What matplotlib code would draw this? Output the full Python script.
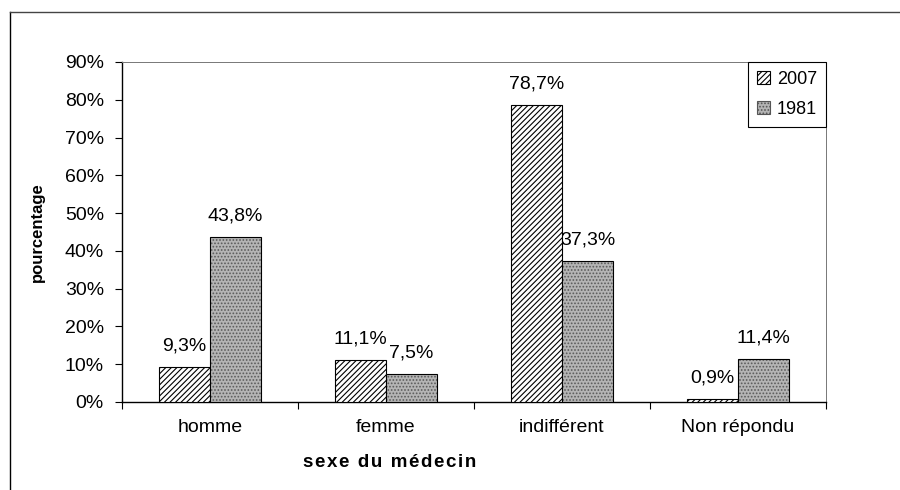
import matplotlib
matplotlib.use("Agg")
import matplotlib.pyplot as plt
import numpy as np
from matplotlib.lines import Line2D
from matplotlib.patches import Patch

categories = ["homme", "femme", "indifférent", "Non répondu"]
series_names = ["2007", "1981"]
values_2007 = [9.3, 11.1, 78.7, 0.9]
values_1981 = [43.8, 7.5, 37.3, 11.4]
ytick_vals = [0, 10, 20, 30, 40, 50, 60, 70, 80, 90]

plt.rcParams['font.family'] = ['Liberation Sans', 'DejaVu Sans']
plt.rcParams['hatch.linewidth'] = 0.8

fig = plt.figure(figsize=(9, 4.9), dpi=100)
L, R, T, B = 122, 826, 62, 402
ax = fig.add_axes([L/900, 1-B/490, (R-L)/900, (B-T)/490])

x = np.arange(len(categories))
w = 0.29

# 2007: diagonal hatch
ax.bar(x - w/2, values_2007, w, facecolor='white', edgecolor='black',
       hatch='//////', linewidth=0.8, zorder=3)
# 1981: gray stipple
ax.bar(x + w/2, values_1981, w, facecolor='#b4b4b4', edgecolor='#5a5a5a',
       hatch='.....', linewidth=0, zorder=3)
ax.bar(x + w/2, values_1981, w, fill=False, edgecolor='black', linewidth=0.8, zorder=4)

def fmt(v):
    return f"{v:.1f}".replace('.', ',') + '%'

for xs, vals in ((x - w/2, values_2007), (x + w/2, values_1981)):
    for xi, v in zip(xs, vals):
        ax.annotate(fmt(v), (xi, v), xytext=(0, 15), textcoords='offset points',
                    ha='center', va='center', fontsize=14)

ax.set_xlim(-0.5, len(categories) - 0.5)
ax.set_ylim(0, 90)
ax.set_yticks(ytick_vals)
ax.set_yticklabels([f"{v}%" for v in ytick_vals], fontsize=14)
ax.set_xticks(x)
ax.set_xticklabels(categories, fontsize=14)
ax.tick_params(axis='x', length=0, pad=12)
ax.set_xticks(np.arange(-0.5, len(categories)), minor=True)
ax.tick_params(axis='x', which='minor', length=5, direction='out', width=0.8)
ax.tick_params(axis='y', length=5, direction='out', width=0.8, pad=8)

for s in ('left', 'bottom'):
    ax.spines[s].set_linewidth(1.0)
    ax.spines[s].set_color('black')
for s in ('top', 'right'):
    ax.spines[s].set_linewidth(0.7)
    ax.spines[s].set_color('#777777')

ax.set_ylabel("pourcentage", fontsize=12, fontweight='bold', labelpad=14)
xlabel_text = "\u200a".join("sexe du médecin")
fig.text(390/900, 1-462/490, xlabel_text, fontsize=13.5, fontweight='bold',
         ha='center', va='center')

handles = [Patch(facecolor='white', edgecolor='black', hatch='//////', linewidth=0.8),
           Patch(facecolor='#b4b4b4', edgecolor='#555555', hatch='.....', linewidth=0.8)]
leg = ax.legend(handles, series_names, loc='upper right', bbox_to_anchor=(1, 1),
                borderaxespad=0, fancybox=False, fontsize=13, handlelength=0.7,
                handleheight=0.7, handletextpad=0.4, labelspacing=0.7,
                borderpad=0.5, framealpha=1)
leg.get_frame().set_edgecolor('black')
leg.get_frame().set_linewidth(0.8)

# outer chart frame (partially visible)
fig.add_artist(Line2D([10/900, 10/900], [0, 1-12/490], color='black', lw=1.0,
                      transform=fig.transFigure))
fig.add_artist(Line2D([10/900, 1], [1-12/490, 1-12/490], color='#444444', lw=1.0,
                      transform=fig.transFigure))

fig.savefig("out.png", dpi=100, facecolor='white')
